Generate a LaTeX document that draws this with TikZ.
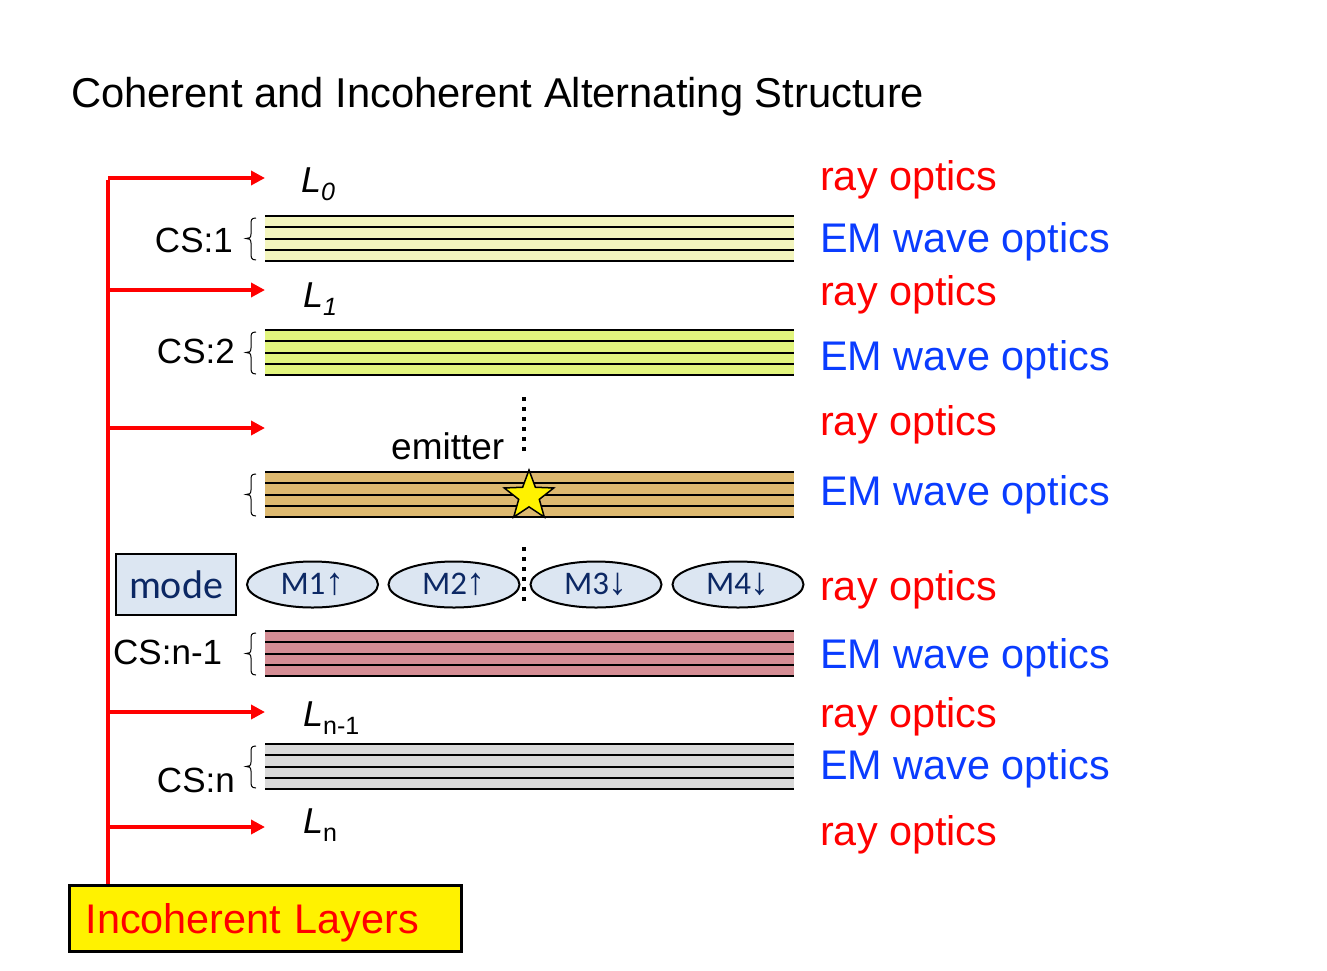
\documentclass[tikz,border=0pt]{standalone}
\usepackage{fontspec}
\setmainfont{Liberation Sans}
\newfontfamily\calib{Carlito}
\newfontfamily\arrfont{Liberation Sans}
\usetikzlibrary{arrows.meta,shapes.geometric}
\newcommand\myfs[1]{\fontsize{#1}{#1}\selectfont}
\definecolor{rayred}{RGB}{255,0,0}
\definecolor{emblue}{RGB}{10,60,255}
\definecolor{cA}{RGB}{243,245,190}
\definecolor{cB}{RGB}{226,245,126}
\definecolor{cC}{RGB}{221,185,112}
\definecolor{cD}{RGB}{213,141,148}
\definecolor{cE}{RGB}{217,217,217}
\definecolor{modefill}{RGB}{220,230,242}
\definecolor{navy}{RGB}{12,40,100}
\newcommand\Lsub[2]{{\myfs{36}\textit{L}}\raisebox{-8pt}{\myfs{25}#2}}
\newcommand\updn[1]{{\arrfont\myfs{38}#1}}
\begin{document}
\begin{tikzpicture}[x=1pt,y=-1pt,
  raytxt/.style={anchor=base west,inner sep=0,text=rayred,font=\myfs{41.4}},
  emtxt/.style={anchor=base west,inner sep=0,text=emblue,font=\myfs{41.4}},
  cstxt/.style={inner sep=0,font=\myfs{35}},
  ltxt/.style={anchor=base west,inner sep=0},
  feed/.style={draw=rayred,line width=4.5pt,-{Triangle[length=14pt,width=14pt]}},
  trunk/.style={draw=rayred,line width=4.5pt},
  stripe/.style={line width=2pt,black},
  brc/.style={line width=1pt,black},
  dotline/.style={line width=4pt,dash pattern=on 4pt off 6pt,black},
  modebox/.style={draw,line width=2.5pt,fill=modefill,minimum width=120pt,minimum height=61pt,inner sep=0,text=navy,font=\calib\myfs{40}},
  modeell/.style={ellipse,draw,line width=2pt,fill=modefill,minimum width=131pt,minimum height=46pt,inner sep=0,text=navy,font=\calib\myfs{33}}
]
\useasboundingbox (0,0) rectangle (1327,970);
\fill[white] (0,0) rectangle (1327,970);

% title
\node[anchor=base west,inner sep=0,font=\myfs{41.7}] (title) at (71,107) {Coherent and Incoherent Alternating Structure};

% layers
\foreach \t/\c in {216/cA,330/cB,472/cC,631/cD,744/cE}{
  \fill[\c] (265,\t) rectangle (794,\t+45);
  \foreach \k in {0,1,2,3,4}{
    \draw[stripe] (265,\t+11.25*\k) -- (794,\t+11.25*\k);
  }
  \draw[brc] (256,\t+2) .. controls (251,\t+2) and (251,\t+4) .. (251,\t+9)
     -- (251,\t+18) .. controls (251,\t+22) and (249,\t+22.5) .. (246,\t+22.5)
     .. controls (249,\t+22.5) and (251,\t+23) .. (251,\t+27)
     -- (251,\t+37) .. controls (251,\t+41) and (251,\t+44) .. (256,\t+44);
}

% CS labels
\node[cstxt,anchor=base east] (cs1) at (233,252) {CS:1};
\node[cstxt,anchor=base east] (cs2) at (235,363) {CS:2};
\node[cstxt,anchor=base west] (csn1) at (113,664) {CS:n-1};
\node[cstxt,anchor=base east] (csn) at (235,792) {CS:n};

% L labels
\node[ltxt] (L0) at (301,192) {\Lsub{}{\textit{0}}};
\node[ltxt] (L1) at (303,307) {\Lsub{}{\textit{1}}};
\node[ltxt] (Ln1) at (303,726) {\Lsub{}{n-1}};
\node[ltxt] (Ln) at (303,833) {\Lsub{}{n}};

% right column
\node[raytxt] (r1) at (820,190) {ray optics};
\node[emtxt]  (e1) at (820,252) {EM wave optics};
\node[raytxt] (r2) at (820,305) {ray optics};
\node[emtxt]  (e2) at (820,370) {EM wave optics};
\node[raytxt] (r3) at (820,435) {ray optics};
\node[emtxt]  (e3) at (820,505) {EM wave optics};
\node[raytxt] (r4) at (820,600) {ray optics};
\node[emtxt]  (e4) at (820,668) {EM wave optics};
\node[raytxt] (r5) at (820,727) {ray optics};
\node[emtxt]  (e5) at (820,779) {EM wave optics};
\node[raytxt] (r6) at (820,845) {ray optics};

% emitter
\coordinate (d1a) at (524,397);
\coordinate (d1b) at (524,452);
\draw[dotline] (d1a) -- (d1b);
\node[anchor=base west,inner sep=0,font=\myfs{37}] (emit) at (391,459) {emitter};
\node[star,star points=5,star point ratio=2.4,draw,line width=1.5pt,fill=yellow,minimum size=52pt,inner sep=0] (star) at (529,496) {};

% modes
\coordinate (d2a) at (524,547);
\coordinate (d2b) at (524,606);
\draw[dotline] (d2a) -- (d2b);
\node[modebox] (mode) at (176,584.5) {mode};
\node[modeell] (m1) at (312.5,584.5) {M1\updn{↑}};
\node[modeell] (m2) at (454,584.5) {M2\updn{↑}};
\node[modeell] (m3) at (596,584.5) {M3\updn{↓}};
\node[modeell] (m4) at (738,584.5) {M4\updn{↓}};

% incoherent layers box
\node[draw,line width=3pt,fill=yellow,minimum width=392pt,minimum height=66pt,
  text width=360pt,align=left,inner xsep=16pt,inner ysep=0,text height=30pt,text depth=0pt,
  text=rayred,font=\myfs{41.4}] (inc) at (265.5,918.7) {Incoherent Layers};

% feed lines
\coordinate (j0) at (108,178);
\coordinate (j1) at (108,290);
\coordinate (j2) at (108,428);
\coordinate (j3) at (108,712);
\coordinate (j4) at (108,827);
\coordinate (t0) at (265,178);
\coordinate (t1) at (265,290);
\coordinate (t2) at (265,428);
\coordinate (t3) at (265,712);
\coordinate (t4) at (265,827);
\draw[trunk] (inc.north -| j0) -- ([yshift=-2.25pt]j0);
\foreach \i in {0,...,4}{
  \draw[feed] (j\i) -- (t\i);
}
\end{tikzpicture}
\end{document}
